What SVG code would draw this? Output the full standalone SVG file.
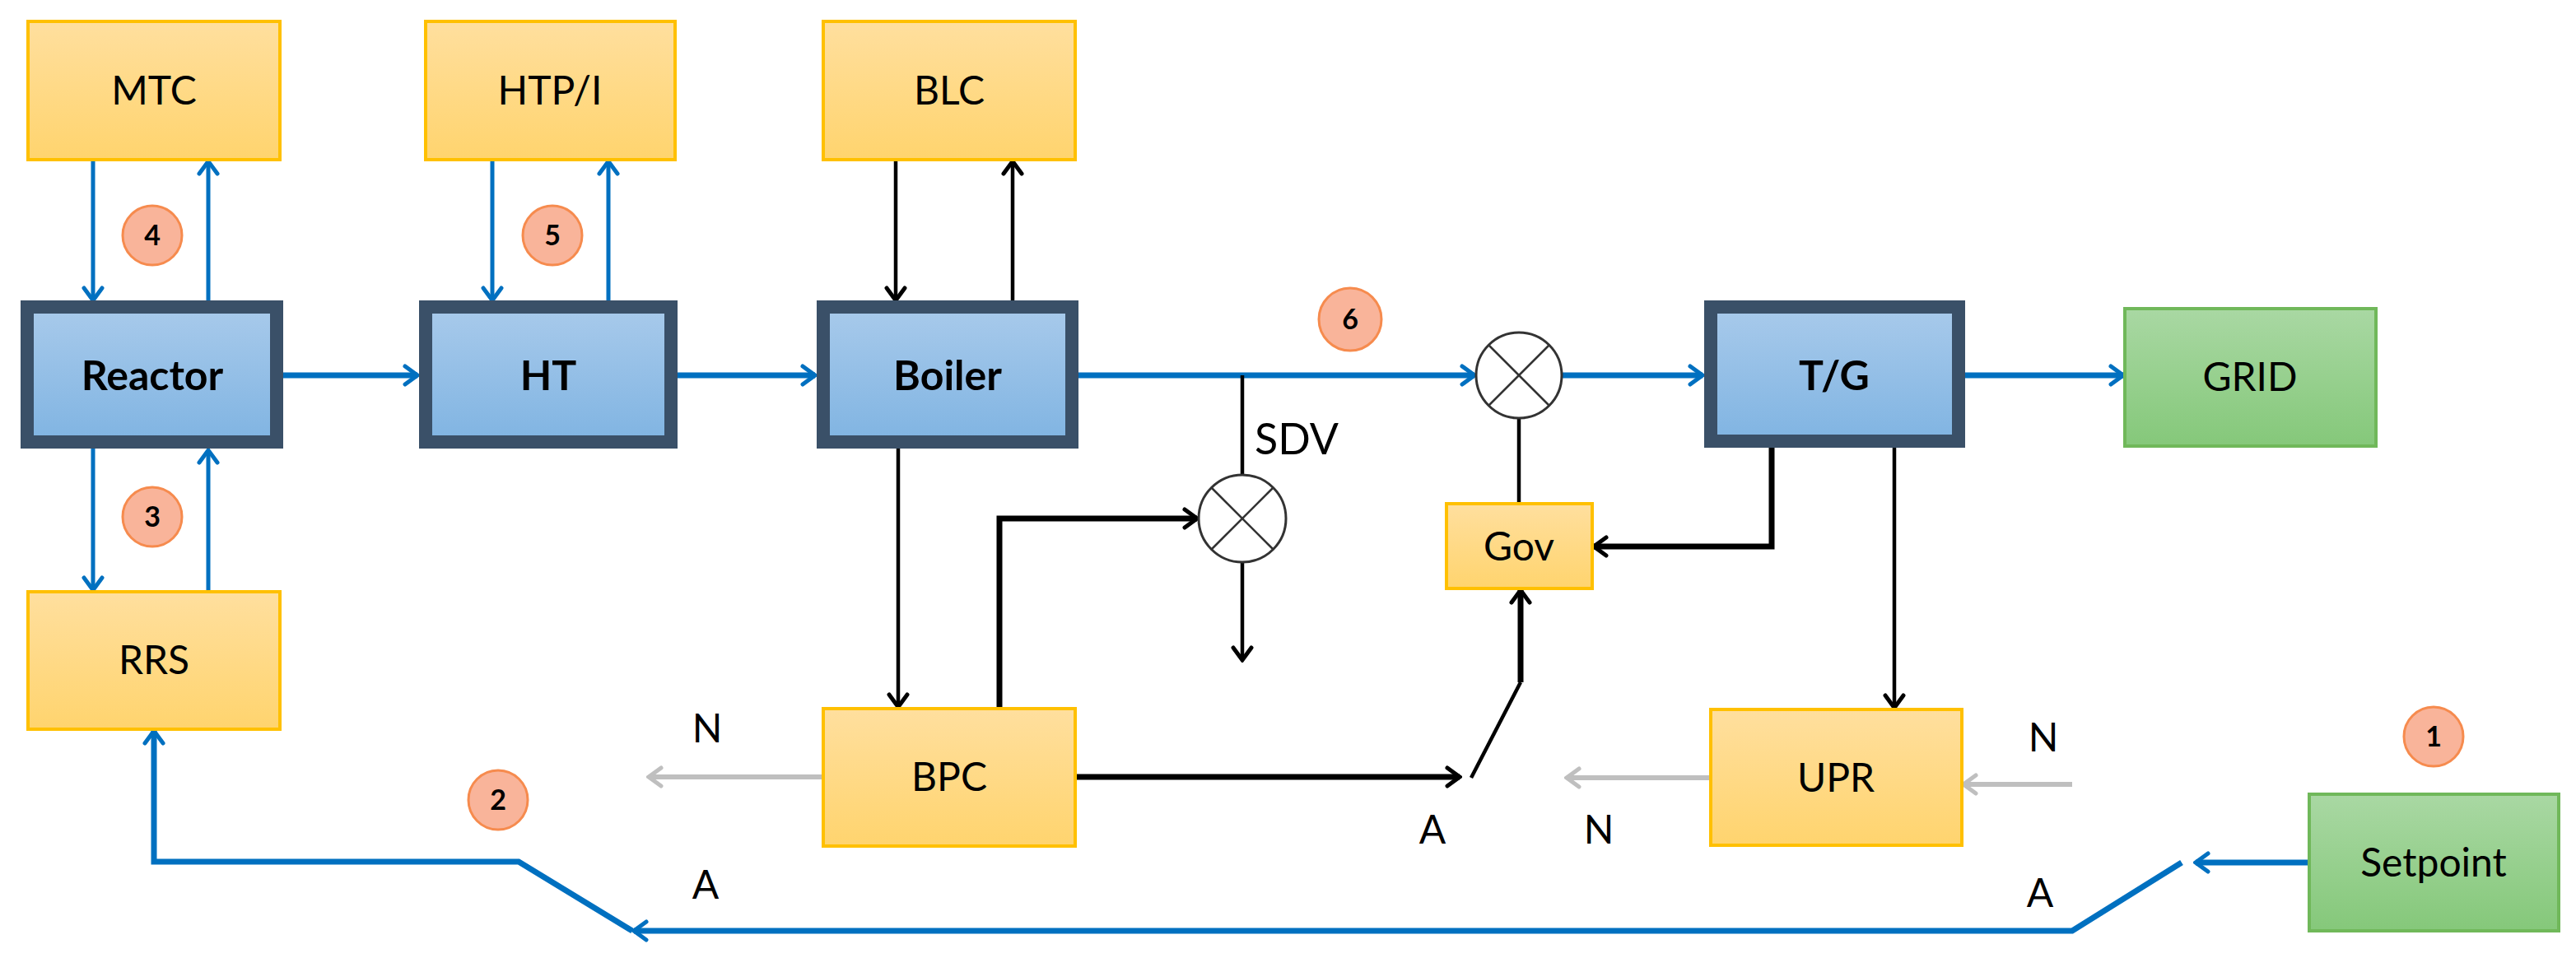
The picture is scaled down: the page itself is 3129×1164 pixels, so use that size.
<svg xmlns="http://www.w3.org/2000/svg" width="3129" height="1164" viewBox="0 0 3129 1164">
<style>
text{font-family:Lato,"Open Sans","Liberation Sans",sans-serif;fill:#000;text-anchor:middle}
.y{fill:url(#gy);stroke:#FFC000;stroke-width:4}
.b{fill:url(#gb);stroke:#3A5068;stroke-width:16}
.g{fill:url(#gg);stroke:#70B85A;stroke-width:4}
.lbl{font-size:48px}
.bl{font-size:50px;font-weight:bold}
.num{font-size:34px;font-weight:bold}
.c{fill:#F9B49A;stroke:#F68B4E;stroke-width:3}
.bw{stroke:#0070C0;stroke-width:7;fill:none}
.bt{stroke:#0070C0;stroke-width:5;fill:none}
.k{stroke:#000;stroke-width:4.5;fill:none}
.kt{stroke:#000;stroke-width:7;fill:none}
.gr{stroke:#BFBFBF;stroke-width:6;fill:none}
.mx{fill:#fff;stroke:#333;stroke-width:3}
.mxl{stroke:#333;stroke-width:2.5}
</style>
<defs>
<linearGradient id="gy" x1="0" y1="0" x2="0" y2="1"><stop offset="0" stop-color="#FFDF9E"/><stop offset="1" stop-color="#FFD46E"/></linearGradient>
<linearGradient id="gb" x1="0" y1="0" x2="0" y2="1"><stop offset="0" stop-color="#A8CAEB"/><stop offset="1" stop-color="#80B4E2"/></linearGradient>
<linearGradient id="gg" x1="0" y1="0" x2="0" y2="1"><stop offset="0" stop-color="#A9D8A3"/><stop offset="1" stop-color="#85C87A"/></linearGradient>
<marker id="ab" viewBox="0 0 30 30" refX="27" refY="15" markerWidth="30" markerHeight="30" markerUnits="userSpaceOnUse" orient="auto"><path d="M12,4 L27,15 L12,26" fill="none" stroke="#0070C0" stroke-width="5" stroke-linecap="round"/></marker>
<marker id="ak" viewBox="0 0 30 30" refX="27" refY="15" markerWidth="30" markerHeight="30" markerUnits="userSpaceOnUse" orient="auto"><path d="M12,4 L27,15 L12,26" fill="none" stroke="#000" stroke-width="5" stroke-linecap="round"/></marker>
<marker id="ag" viewBox="0 0 30 30" refX="27" refY="15" markerWidth="30" markerHeight="30" markerUnits="userSpaceOnUse" orient="auto"><path d="M12,4 L27,15 L12,26" fill="none" stroke="#BFBFBF" stroke-width="5" stroke-linecap="round"/></marker>
</defs>
<rect width="3129" height="1164" fill="#fff"/>
<g id="connectors">
<line class="bt" x1="113" y1="194" x2="113" y2="365" marker-end="url(#ab)"/>
<line class="bt" x1="253" y1="365" x2="253" y2="196" marker-end="url(#ab)"/>
<line class="bt" x1="598" y1="194" x2="598" y2="365" marker-end="url(#ab)"/>
<line class="bt" x1="739" y1="365" x2="739" y2="196" marker-end="url(#ab)"/>
<line class="k" x1="1088" y1="194" x2="1088" y2="365" marker-end="url(#ak)"/>
<line class="k" x1="1230" y1="365" x2="1230" y2="196" marker-end="url(#ak)"/>
<line class="bt" x1="113" y1="545" x2="113" y2="717" marker-end="url(#ab)"/>
<line class="bt" x1="253" y1="719" x2="253" y2="547" marker-end="url(#ab)"/>
<line class="bw" x1="344" y1="456" x2="507" y2="456" marker-end="url(#ab)"/>
<line class="bw" x1="823" y1="456" x2="990" y2="456" marker-end="url(#ab)"/>
<line class="bw" x1="1310" y1="456" x2="1791" y2="456" marker-end="url(#ab)"/>
<line class="bw" x1="1898" y1="456" x2="2068" y2="456" marker-end="url(#ab)"/>
<line class="bw" x1="2387" y1="456" x2="2579" y2="456" marker-end="url(#ab)"/>
<line class="k" x1="1509" y1="456" x2="1509" y2="577"/>
<line class="k" x1="1509" y1="683" x2="1509" y2="802" marker-end="url(#ak)"/>
<line class="k" x1="1845" y1="508" x2="1845" y2="612"/>
<line class="k" x1="1091" y1="545" x2="1091" y2="859" marker-end="url(#ak)"/>
<polyline class="kt" points="1214,861 1214,630 1454,630" marker-end="url(#ak)"/>
<polyline class="kt" points="2152,544 2152,664 1936,664" marker-end="url(#ak)"/>
<line class="k" x1="2301" y1="544" x2="2301" y2="860" marker-end="url(#ak)"/>
<line class="kt" x1="1306" y1="944" x2="1773" y2="944" marker-end="url(#ak)"/>
<line class="k" x1="1787" y1="945" x2="1847" y2="829"/>
<line class="kt" x1="1847" y1="829" x2="1847" y2="717" marker-end="url(#ak)"/>
<line class="gr" x1="1000" y1="944" x2="788" y2="944" marker-end="url(#ag)"/>
<line class="gr" x1="2078" y1="945" x2="1903" y2="945" marker-end="url(#ag)"/>
<line class="gr" x1="2517" y1="953" x2="2385" y2="953" marker-end="url(#ag)"/>
<line class="bw" x1="2805" y1="1048" x2="2667" y2="1048" marker-end="url(#ab)"/>
<polyline class="bw" points="2650,1048 2517,1131 770,1131" marker-end="url(#ab)"/>
<polyline class="bw" points="768,1131 630,1047 187,1047 187,888" marker-end="url(#ab)"/>
</g>
<g id="MTC"><rect class="y" x="34" y="26" width="306" height="168"/><text class="lbl" x="187" y="127">MTC</text></g>
<g id="HTPI"><rect class="y" x="517" y="26" width="303" height="168"/><text class="lbl" x="668" y="127">HTP/I</text></g>
<g id="BLC"><rect class="y" x="1000" y="26" width="306" height="168"/><text class="lbl" x="1153" y="127">BLC</text></g>
<g id="Reactor"><rect class="b" x="33" y="373" width="303" height="164"/><text class="bl" x="185" y="474">Reactor</text></g>
<g id="HT"><rect class="b" x="517" y="373" width="298" height="164"/><text class="bl" x="666" y="474">HT</text></g>
<g id="Boiler"><rect class="b" x="1000" y="373" width="302" height="164"/><text class="bl" x="1151" y="474">Boiler</text></g>
<g id="TG"><rect class="b" x="2078" y="373" width="301" height="163"/><text class="bl" x="2228" y="474">T/G</text></g>
<g id="GRID"><rect class="g" x="2581" y="375" width="305" height="167"/><text class="lbl" x="2733" y="475">GRID</text></g>
<g id="RRS"><rect class="y" x="34" y="719" width="306" height="167"/><text class="lbl" x="187" y="819">RRS</text></g>
<g id="BPC"><rect class="y" x="1000" y="861" width="306" height="167"/><text class="lbl" x="1153" y="961">BPC</text></g>
<g id="UPR"><rect class="y" x="2078" y="862" width="305" height="165"/><text class="lbl" x="2230" y="962">UPR</text></g>
<g id="Setpoint"><rect class="g" x="2805" y="965" width="303" height="166"/><text class="lbl" x="2956" y="1065">Setpoint</text></g>
<g id="Gov"><rect class="y" x="1757" y="612" width="177" height="103"/><text class="lbl" x="1845" y="681">Gov</text></g>
<g id="mixer1"><circle class="mx" cx="1845" cy="456" r="52"/><line class="mxl" x1="1808" y1="419" x2="1882" y2="493"/><line class="mxl" x1="1882" y1="419" x2="1808" y2="493"/></g>
<g id="mixer2"><circle class="mx" cx="1509" cy="630" r="53"/><line class="mxl" x1="1472" y1="593" x2="1546" y2="667"/><line class="mxl" x1="1546" y1="593" x2="1472" y2="667"/></g>
<g id="c1"><circle class="c" cx="2956" cy="895" r="36"/><text class="num" x="2956" y="907">1</text></g>
<g id="c2"><circle class="c" cx="605" cy="972" r="36"/><text class="num" x="605" y="984">2</text></g>
<g id="c3"><circle class="c" cx="185" cy="628" r="36"/><text class="num" x="185" y="640">3</text></g>
<g id="c4"><circle class="c" cx="185" cy="286" r="36"/><text class="num" x="185" y="298">4</text></g>
<g id="c5"><circle class="c" cx="671" cy="286" r="36"/><text class="num" x="671" y="298">5</text></g>
<g id="c6"><circle class="c" cx="1640" cy="388" r="38"/><text class="num" x="1640" y="400">6</text></g>
<g id="labels">
<text class="lbl" x="1575" y="552" style="font-size:52px">SDV</text>
<text class="lbl" x="859" y="902">N</text>
<text class="lbl" x="857" y="1092">A</text>
<text class="lbl" x="1740" y="1025">A</text>
<text class="lbl" x="1942" y="1025">N</text>
<text class="lbl" x="2482" y="913">N</text>
<text class="lbl" x="2478" y="1102">A</text>
</g>
</svg>
